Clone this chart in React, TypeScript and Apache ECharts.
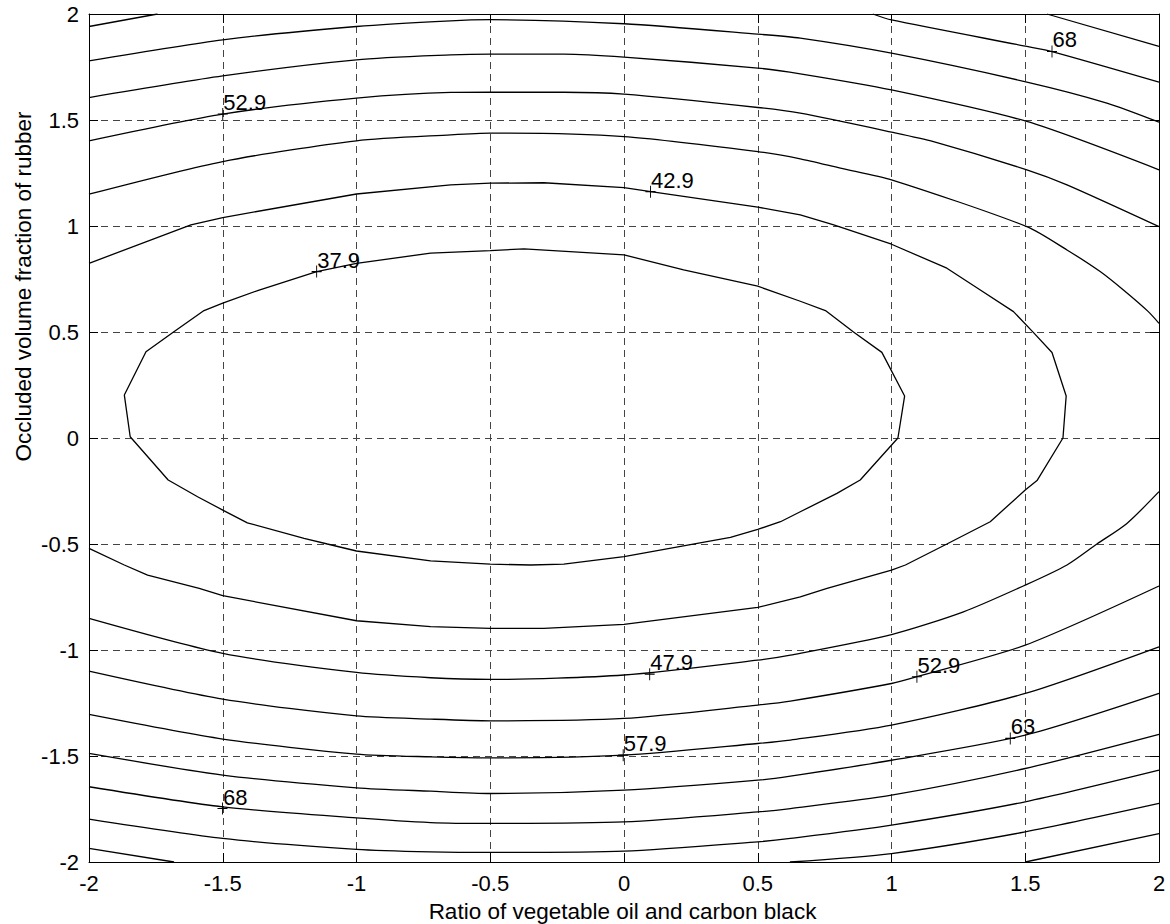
import React, { useEffect, useRef } from "react";
import * as echarts from "echarts";

// Axis ranges / ticks
const AXIS_MIN = -2;
const AXIS_MAX = 2;
const AXIS_STEP = 0.5;

const X_NAME = "Ratio of vegetable oil and carbon black";
const Y_NAME = "Occluded volume fraction of rubber";

// Contour pieces: [x, y]
const c379 = [
  [-1.868, 0.203], [-1.787, 0.407], [-1.684, 0.5], [-1.57, 0.601], [-1.5, 0.636], [-1.364, 0.698],
  [-1.149, 0.785], [-1.0, 0.824], [-0.723, 0.872], [-0.5, 0.884], [-0.374, 0.892], [0, 0.864],
  [0.223, 0.793], [0.5, 0.716], [0.659, 0.645], [0.753, 0.601], [0.858, 0.5], [0.964, 0.404],
  [1.049, 0.198], [1.024, 0.0], [0.883, -0.198], [0.796, -0.261], [0.659, -0.348], [0.585, -0.395],
  [0.5, -0.431], [0.398, -0.469], [0, -0.56], [-0.225, -0.595], [-0.349, -0.599], [-0.5, -0.595],
  [-0.723, -0.58], [-1.0, -0.533], [-1.109, -0.5], [-1.196, -0.473], [-1.408, -0.4], [-1.5, -0.34],
  [-1.594, -0.277], [-1.704, -0.198], [-1.846, 0.006], [-1.868, 0.203],
];
const c429 = [
  [-2, 0.824], [-1.619, 1.005], [-1.5, 1.04], [-1, 1.151], [-0.648, 1.194], [-0.5, 1.202],
  [-0.3, 1.204], [0, 1.181], [0.1, 1.162], [0.5, 1.089], [0.659, 1.052], [0.784, 1.005],
  [1.0, 0.914], [1.207, 0.801], [1.332, 0.698], [1.456, 0.596], [1.531, 0.497], [1.6, 0.403],
  [1.653, 0.198], [1.641, 0.0], [1.544, -0.201], [1.5, -0.245], [1.369, -0.395], [1.207, -0.5],
  [1.052, -0.599], [1.0, -0.623], [0.759, -0.709], [0.659, -0.749], [0.5, -0.799], [0, -0.879],
  [-0.3, -0.898], [-0.5, -0.898], [-0.723, -0.89], [-1, -0.862], [-1.5, -0.744], [-1.588, -0.709],
  [-1.781, -0.647], [-1.868, -0.599], [-2, -0.521],
];
const c479Top = [
  [-2, 1.15], [-1.5, 1.304], [-1, 1.402], [-0.648, 1.43], [-0.5, 1.438], [0, 1.422], [0.5, 1.351],
  [0.659, 1.317], [0.809, 1.273], [1.0, 1.218], [1.506, 0.997], [1.656, 0.887], [1.78, 0.785],
  [1.867, 0.698], [1.96, 0.596], [2.0, 0.541],
];
const c479Bottom = [
  [2.0, -0.253], [1.88, -0.403], [1.768, -0.5], [1.656, -0.599], [1.5, -0.694], [1.269, -0.82],
  [1.0, -0.927], [0.622, -1.024], [0.5, -1.048], [0, -1.118], [-0.5, -1.139], [-0.723, -1.131],
  [-1, -1.106], [-1.5, -1.016], [-2, -0.851],
];
const c529Top = [
  [-2, 1.402], [-1.5, 1.528], [-1, 1.603], [-0.648, 1.63], [-0.5, 1.631], [-0.225, 1.631], [0, 1.622],
  [0.5, 1.559], [0.659, 1.532], [1.0, 1.443], [1.157, 1.398], [1.506, 1.265], [1.656, 1.194], [2.0, 0.997],
];
const c529Bottom = [
  [2.0, -0.698], [1.5, -0.977], [1.095, -1.126], [1.0, -1.158], [0.622, -1.241], [0.5, -1.26],
  [0, -1.323], [-0.5, -1.334], [-0.723, -1.326], [-1, -1.311], [-1.5, -1.232], [-2, -1.1],
];
const c579Top = [
  [-2, 1.606], [-1.5, 1.708], [-1, 1.784], [-0.648, 1.807], [-0.5, 1.811], [-0.225, 1.811], [0, 1.797],
  [0.5, 1.745], [0.659, 1.718], [1.0, 1.642], [1.506, 1.493], [2.0, 1.265],
];
const c579Bottom = [
  [2.0, -0.985], [1.5, -1.205], [1.0, -1.354], [0.622, -1.425], [0.5, -1.441], [0, -1.496],
  [-0.5, -1.509], [-0.723, -1.504], [-1, -1.491], [-1.5, -1.42], [-2, -1.304],
];
const c63Top = [
  [-2, 1.779], [-1.5, 1.878], [-1, 1.941], [-0.648, 1.968], [-0.5, 1.973], [0, 1.954], [0.5, 1.905],
  [0.659, 1.886], [1.0, 1.815], [1.506, 1.679], [1.805, 1.58], [2.0, 1.49],
];
const c63Bottom = [
  [2.0, -1.205], [1.5, -1.402], [1.0, -1.52], [0.622, -1.595], [0.5, -1.614], [0, -1.661],
  [-0.5, -1.677], [-0.723, -1.666], [-1, -1.65], [-1.5, -1.59], [-2, -1.488],
];
const c68TopLeft = [[-2, 1.941], [-1.744, 2.0]];
const c68TopRight = [[0.93, 2.0], [1.0, 1.972], [1.506, 1.847], [1.6, 1.823], [2.0, 1.679]];
const c68Bottom = [
  [2.0, -1.398], [1.5, -1.559], [1.0, -1.685], [0.622, -1.748], [0.5, -1.764], [0, -1.811],
  [-0.5, -1.818], [-0.723, -1.814], [-1, -1.792], [-1.5, -1.74], [-2, -1.645],
];
const c73TopRight = [[1.581, 2.0], [2.0, 1.847]];
const c73Bottom = [
  [2.0, -1.567], [1.5, -1.716], [1.0, -1.826], [0.622, -1.889], [0.5, -1.905], [0, -1.949],
  [-0.5, -1.955], [-0.723, -1.952], [-1, -1.94], [-1.5, -1.889], [-2, -1.798],
];
const c78BottomLeft = [[-2, -1.936], [-1.682, -2.0]];
const c78BottomRight = [[0.62, -2.0], [1.0, -1.96], [1.5, -1.858], [2.0, -1.724]];
const c83BottomRight = [[1.5, -2.0], [2.0, -1.866]];

// Contour labels: [x, y, text]
const contourLabels: [number, number, string][] = [
  [-1.5, 1.528, "52.9"],
  [-1.149, 0.785, "37.9"],
  [0.099, 1.162, "42.9"],
  [1.6, 1.823, "68"],
  [0.096, -1.114, "47.9"],
  [-0.003, -1.496, "57.9"],
  [1.095, -1.126, "52.9"],
  [1.444, -1.417, "63"],
  [-1.501, -1.748, "68"],
];

const pieces: { data: number[][]; smooth: number | boolean }[] = [
  { data: c379, smooth: false },
  { data: c429, smooth: false },
  { data: c479Top, smooth: 0.25 },
  { data: c479Bottom, smooth: 0.25 },
  { data: c529Top, smooth: 0.25 },
  { data: c529Bottom, smooth: 0.25 },
  { data: c579Top, smooth: 0.25 },
  { data: c579Bottom, smooth: 0.25 },
  { data: c63Top, smooth: 0.25 },
  { data: c63Bottom, smooth: 0.25 },
  { data: c68TopLeft, smooth: false },
  { data: c68TopRight, smooth: 0.25 },
  { data: c68Bottom, smooth: 0.25 },
  { data: c73TopRight, smooth: false },
  { data: c73Bottom, smooth: 0.25 },
  { data: c78BottomLeft, smooth: false },
  { data: c78BottomRight, smooth: 0.25 },
  { data: c83BottomRight, smooth: false },
];

const FONT = "'Liberation Sans', Arial, Helvetica, sans-serif";

export default function App() {
  const ref = useRef<HTMLDivElement>(null);

  useEffect(() => {
    if (!ref.current) return;
    const chart = echarts.init(ref.current, undefined, { renderer: "svg" });

    const gridLine = { show: true, lineStyle: { color: "#444", width: 1, type: [7, 5] as any } };
    const axisLine = { show: true, onZero: false, lineStyle: { color: "#000", width: 1 } };
    const tick = { show: true, inside: true, length: 9, lineStyle: { color: "#000", width: 1 } };
    const labelStyle = { fontSize: 22, color: "#000", fontFamily: FONT };

    const option: any = {
      animation: false,
      backgroundColor: "#fff",
      grid: { left: 89, right: 11, top: 14, bottom: 62, containLabel: false },
      xAxis: [
        {
          type: "value", min: AXIS_MIN, max: AXIS_MAX, interval: AXIS_STEP, position: "bottom",
          axisLine, axisTick: tick, splitLine: gridLine,
          axisLabel: { ...labelStyle, margin: 10 },
        },
        {
          type: "value", min: AXIS_MIN, max: AXIS_MAX, interval: AXIS_STEP, position: "top",
          axisLine, axisTick: tick, splitLine: { show: false }, axisLabel: { show: false },
        },
      ],
      yAxis: [
        {
          type: "value", min: AXIS_MIN, max: AXIS_MAX, interval: AXIS_STEP, position: "left",
          axisLine, axisTick: tick, splitLine: gridLine,
          axisLabel: { ...labelStyle, margin: 10 },
        },
        {
          type: "value", min: AXIS_MIN, max: AXIS_MAX, interval: AXIS_STEP, position: "right",
          axisLine, axisTick: tick, splitLine: { show: false }, axisLabel: { show: false },
        },
      ],
      series: [
        ...pieces.map((p) => ({
          type: "line",
          xAxisIndex: 0,
          yAxisIndex: 0,
          data: p.data,
          showSymbol: false,
          symbol: "none",
          smooth: p.smooth,
          silent: true,
          lineStyle: { color: "#000", width: 1.3 },
        })),
        {
          type: "scatter",
          xAxisIndex: 0,
          yAxisIndex: 0,
          silent: true,
          symbol: "path://M5,0L5,12M0,6L10,6",
          symbolSize: [10, 12],
          itemStyle: { color: "transparent", borderColor: "#000", borderWidth: 1, opacity: 1 },
          data: contourLabels.map(([x, y, t]) => ({ value: [x, y], name: t })),
          label: {
            show: true,
            formatter: (p: any) => p.name,
            position: [6, 6],
            align: "left",
            verticalAlign: "bottom",
            fontSize: 22,
            color: "#000",
            opacity: 1,
            textBorderWidth: 0,
            textBorderColor: "transparent",
            fontFamily: FONT,
          },
          z: 5,
        },
      ],
      graphic: [
        {
          type: "text",
          x: 622.5,
          y: 911,
          style: {
            text: X_NAME, fontSize: 22.5, fontFamily: FONT, fill: "#000",
            align: "center", verticalAlign: "middle",
          },
        },
        {
          type: "text",
          x: 23,
          y: 286.5,
          rotation: Math.PI / 2,
          style: {
            text: Y_NAME, fontSize: 22.5, fontFamily: FONT, fill: "#000",
            align: "center", verticalAlign: "middle",
          },
        },
      ],
    };

    chart.setOption(option);
    return () => chart.dispose();
  }, []);

  return (
    <div
      ref={ref}
      style={{ position: "absolute", left: 0, top: 0, width: 1170, height: 924, background: "#fff" }}
    />
  );
}
